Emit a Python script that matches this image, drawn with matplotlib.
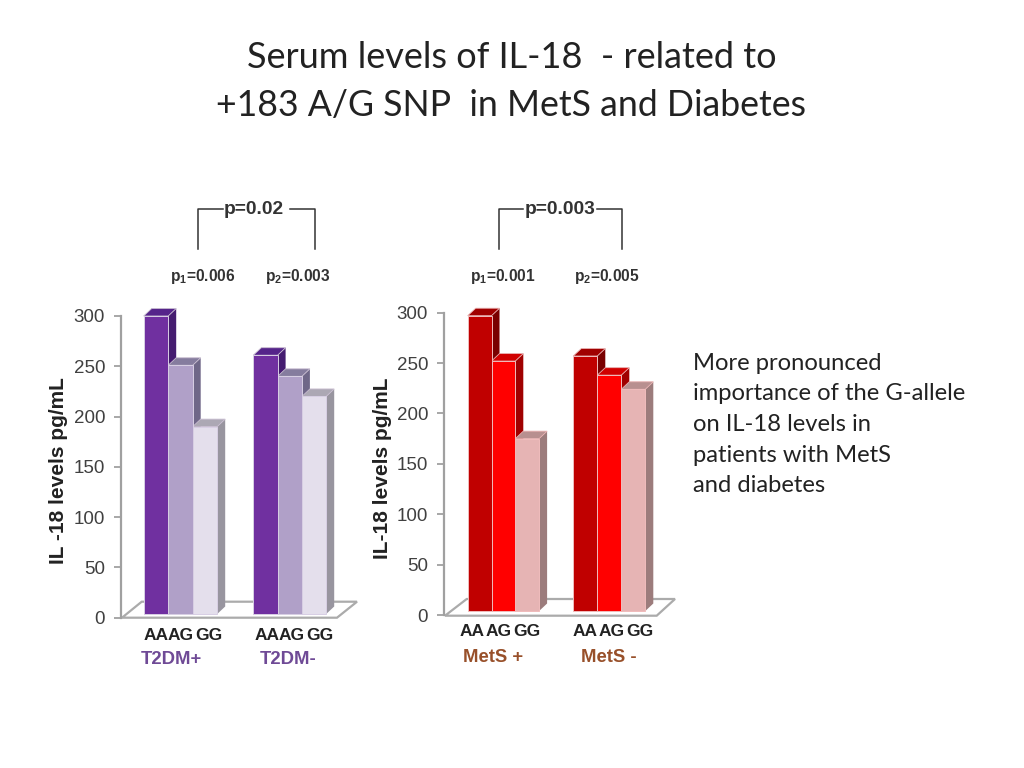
import matplotlib
matplotlib.use("Agg")
import matplotlib.pyplot as plt
from matplotlib.lines import Line2D
from matplotlib.patches import Polygon

plt.rcParams['font.family'] = ['Liberation Sans', 'DejaVu Sans']
plt.rcParams['mathtext.fontset'] = 'custom'
plt.rcParams['mathtext.default'] = 'regular'

W, H = 1024, 768

# values
genotypes = ["AA", "AG", "GG"]
y_ticks = [0, 50, 100, 150, 200, 250, 300]

t2dm_plus = [300, 251, 190]
t2dm_minus = [261, 240, 220]
mets_plus = [297, 252, 175]
mets_minus = [257, 238, 224]

purple_front = ["#7030A0", "#B0A0C8", "#E4DFEC"]
purple_side = ["#451C70", "#6F6788", "#98959F"]
purple_top = ["#55248A", "#857C9E", "#ACA8B4"]
red_front = ["#C00000", "#FF0000", "#E6B4B4"]
red_side = ["#7A0000", "#A00000", "#9C7C7C"]
red_top = ["#A00000", "#D00000", "#B89090"]

fig = plt.figure(figsize=(W / 100, H / 100), dpi=100)
fig.patch.set_facecolor("white")


def fx(x):
    return x / W


def fy(y):
    return 1 - y / H


def label(x, y, s, **kw):
    kw.setdefault("ha", "center")
    kw.setdefault("va", "center")
    fig.text(fx(x), fy(y), s, **kw)


def bracket(x0, x1, x2, x3):
    kw = dict(color="#333333", lw=1.1, transform=fig.transFigure)
    xs = [fx(x0), fx(x0), fx(x1)]
    ys = [fy(249), fy(209), fy(209)]
    fig.add_artist(Line2D(xs, ys, **kw))
    xs = [fx(x2), fx(x3), fx(x3)]
    ys = [fy(209), fy(209), fy(249)]
    fig.add_artist(Line2D(xs, ys, **kw))


def chart(ax_x, y0, y300, floor, bottom_px, groups, front, side, top):
    right = 700
    ax = fig.add_axes([fx(ax_x), fy(y0), fx(right - ax_x), (y0 - y300) / H])
    ax.set_xlim(ax_x, right)
    ax.set_ylim(0, 300)
    ax.patch.set_alpha(0)
    per_px = 300 / (y0 - y300)
    for s in ["top", "right", "bottom"]:
        ax.spines[s].set_visible(False)
    ax.spines["left"].set_color("#a0a0a0")
    ax.spines["left"].set_linewidth(1.6)
    ax.set_xticks([])
    ax.set_yticks(y_ticks)
    ax.tick_params(axis="y", length=5, width=1.3, color="#a0a0a0", pad=6.5,
                   labelsize=13.5, labelcolor="#404040")

    # floor of the 3D box
    fl = [(x, (y0 - y) * per_px) for x, y in floor]
    ax.add_patch(Polygon(fl, closed=True, fc="white", ec="#ababab", lw=1.6,
                         clip_on=False, zorder=1))

    base = (y0 - bottom_px) * per_px
    dx, dy = 8, 7.5 * per_px
    for start, width, values in groups:
        # drawn right to left so nearer bars cover the side of the next
        for i in reversed(range(3)):
            x = start + i * width
            v = values[i]
            ax.add_patch(Polygon([(x + width, base), (x + width + dx, base + dy),
                                  (x + width + dx, v + dy), (x + width, v)],
                                 fc=side[i], ec="none", clip_on=False, zorder=2 + i))
            ax.add_patch(Polygon([(x, v), (x + dx, v + dy), (x + width + dx, v + dy),
                                  (x + width, v)],
                                 fc=top[i], ec="#c8bcd0" if front is purple_front else "#e8b0b0",
                                 lw=0.6, clip_on=False, zorder=2 + i))
            ax.bar(x, v - base, width=width, bottom=base, align="edge", color=front[i],
                   edgecolor="#d8cfe4" if front is purple_front else "#f0bcbc",
                   linewidth=0.7, clip_on=False, zorder=6 - i)
    return ax


chart(121, 617.7, 316, [(122, 617.7), (337, 617.7), (357, 601.7), (141.7, 601.7)], 614,
      [(143.7, 24.5, t2dm_plus), (253.3, 24.3, t2dm_minus)],
      purple_front, purple_side, purple_top)
chart(444, 615, 312.7, [(445, 615.7), (656.7, 615.7), (675, 599), (466.7, 599)], 611,
      [(467.7, 23.8, mets_plus), (573.3, 24, mets_minus)],
      red_front, red_side, red_top)

# title
label(512, 57, "Serum levels of IL-18  - related to", fontsize=26, family="Lato", color="#222222")
label(511, 105, "+183 A/G SNP  in MetS and Diabetes", fontsize=25.7, family="Lato", color="#222222")

# p values
bracket(198, 222.7, 290, 315)
bracket(499, 523, 596.7, 622.3)
label(254, 209, "p=0.02", fontsize=13.8, fontweight="bold", color="#333333")
label(560, 209, "p=0.003", fontsize=13.8, fontweight="bold", color="#333333")
for x, s in [(203, "p$_1$=0.006"), (298, "p$_2$=0.003"), (503, "p$_1$=0.001"), (607, "p$_2$=0.005")]:
    label(x, 276, s, fontsize=11.2, fontweight="bold", color="#333333")

# y labels
label(58, 471, "IL -18 levels pg/mL", rotation=90, fontsize=15, fontweight="bold", color="#222222")
label(383, 468, "IL-18 levels pg/mL", rotation=90, fontsize=15, fontweight="bold", color="#222222")

# genotype and group labels
for xs, y in [([156, 180.7, 208.7], 635), ([266.7, 292, 320], 635),
              ([471.7, 498.7, 526.7], 632), ([585, 612, 640], 632)]:
    for x, g in zip(xs, genotypes):
        label(x, y, g, fontsize=12.5, fontweight="bold", color="#222222")
label(171.7, 659, "T2DM+", fontsize=13.3, fontweight="bold", color="#6F4A96")
label(288, 659, "T2DM-", fontsize=13.3, fontweight="bold", color="#6F4A96")
label(493, 657.5, "MetS +", fontsize=13.3, fontweight="bold", color="#98502A")
label(609, 657.5, "MetS -", fontsize=13.3, fontweight="bold", color="#98502A")

# side note
note = ["More pronounced", "importance of the G-allele", "on IL-18 levels in",
        "patients with MetS", "and diabetes"]
for i, line in enumerate(note):
    label(693, 363 + i * 30.7, line, ha="left", fontsize=17.1, family="Lato", color="#222222")

fig.savefig("out.png", dpi=100)
